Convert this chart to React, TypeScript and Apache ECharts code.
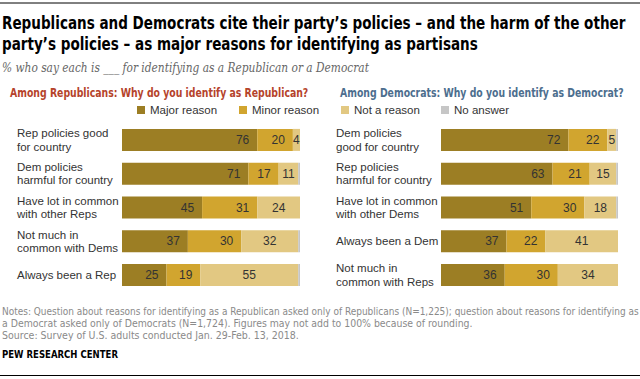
import React, { useEffect, useRef } from "react";
import * as echarts from "echarts";

const legendNames = ["Major reason", "Minor reason", "Not a reason", "No answer"];
const colors = ["#9c7e24", "#d1a52f", "#e2c882", "#c6c6c6"];

const repCategories = [
  "Rep policies good\nfor country",
  "Dem policies\nharmful for country",
  "Have lot in common\nwith other Reps",
  "Not much in\ncommon with Dems",
  "Always been a Rep",
];
const repMajor = [76, 71, 45, 37, 25];
const repMinor = [20, 17, 31, 30, 19];
const repNot = [4, 11, 24, 32, 55];
const repNoAnswer = [0, 1, 0, 1, 1];

const demCategories = [
  "Dem policies\ngood for country",
  "Rep policies\nharmful for country",
  "Have lot in common\nwith other Dems",
  "Always been a Dem",
  "Not much in\ncommon with Reps",
];
const demMajor = [72, 63, 51, 37, 36];
const demMinor = [22, 21, 30, 22, 30];
const demNot = [5, 15, 18, 41, 34];
const demNoAnswer = [1, 1, 1, 0, 0];

const titleLines = [
  "Republicans and Democrats cite their party\u2019s policies \u2013 and the harm of the other",
  "party\u2019s policies \u2013 as major reasons for identifying as partisans",
];
const subtitle = "% who say each is ___ for identifying as a Republican or a Democrat";
const repHeading = "Among Republicans: Why do you identify as Republican?";
const demHeading = "Among Democrats: Why do you identify as Democrat?";
const noteLines = [
  "Notes: Question about reasons for identifying as a Republican asked only of Republicans (N=1,225); question about reasons for identifying as",
  "a Democrat asked only of Democrats (N=1,724). Figures may not add to 100% because of rounding.",
  "Source: Survey of U.S. adults conducted Jan. 29-Feb. 13, 2018.",
];
const sourceLabel = "PEW RESEARCH CENTER";

const NARROW = "'DejaVu Sans Condensed', 'Roboto', sans-serif";
const SANS = "'Liberation Sans', Arial, sans-serif";

export default function App() {
  const ref = useRef<HTMLDivElement>(null);
  useEffect(() => {
    document.body.style.margin = "0";
    const chart = echarts.init(ref.current!, undefined, { renderer: "svg" });

    const makeSeries = (grid: number, vals: number[][]) =>
      vals.map((data, i) => ({
        type: "bar",
        name: legendNames[i],
        xAxisIndex: grid,
        yAxisIndex: grid,
        stack: "s" + grid,
        barWidth: 22,
        data,
        itemStyle: { color: colors[i] },
        label: {
          show: i < 3,
          position: i === 2 ? "inside" : "insideRight",
          distance: 8,
          color: "#333",
          fontFamily: SANS,
          fontSize: 12,
          formatter: (p: any) => (p.value > 0 ? String(p.value) : ""),
        },
        emphasis: { disabled: true },
      }));

    const legendLefts = [137, 239, 341, 441];

    const catAxis = (grid: number, data: string[]) => ({
      type: "category",
      gridIndex: grid,
      data,
      inverse: true,
      axisLine: { show: false },
      axisTick: { show: false },
      axisLabel: {
        align: "left",
        margin: 105,
        color: "#333",
        fontFamily: SANS,
        fontSize: 11.5,
        lineHeight: 13.5,
      },
    });
    const valAxis = (grid: number) => ({
      type: "value",
      gridIndex: grid,
      min: 0,
      max: 100,
      show: false,
    });

    const text = (x: number, y: number, t: string, style: any, sx = 1) => ({
      type: "text",
      x,
      y,
      scaleX: sx,
      style: { text: t, textVerticalAlign: "middle", ...style },
    });

    chart.setOption({
      animation: false,
      grid: [
        { left: 122, width: 178, top: 123, height: 169 },
        { left: 441, width: 177, top: 123, height: 169 },
      ],
      xAxis: [valAxis(0), valAxis(1)],
      yAxis: [catAxis(0, repCategories), catAxis(1, demCategories)],
      legend: legendNames.map((n, i) => ({
        data: [n],
        left: legendLefts[i],
        top: 104,
        itemWidth: 8,
        itemHeight: 8,
        icon: "rect",
        selectedMode: false,
        padding: 0,
        textStyle: { color: "#333", fontFamily: SANS, fontSize: 11.5 },
      })),
      series: [
        ...makeSeries(0, [repMajor, repMinor, repNot, repNoAnswer]),
        ...makeSeries(1, [demMajor, demMinor, demNot, demNoAnswer]),
      ],
      graphic: [
        { type: "line", shape: { x1: 0, y1: 3, x2: 640, y2: 3 }, style: { stroke: "#000", lineWidth: 1 } },
        { type: "line", shape: { x1: 0, y1: 375.5, x2: 640, y2: 375.5 }, style: { stroke: "#000", lineWidth: 1 } },
        text(2, 23.5, titleLines[0], { fill: "#000", font: `bold 17.5px ${NARROW}` }, 0.86),
        text(2, 44, titleLines[1], { fill: "#000", font: `bold 17.5px ${NARROW}` }, 0.86),
        text(2, 68, subtitle, { fill: "#666", font: `italic 12px 'DejaVu Serif', 'Liberation Serif', serif` }, 0.885),
        text(10, 92.5, repHeading, { fill: "#b5432b", font: `bold 12.5px ${NARROW}` }, 0.83),
        text(340, 92.5, demHeading, { fill: "#4d6e8e", font: `bold 12.5px ${NARROW}` }, 0.83),
        text(2, 310.5, noteLines[0], { fill: "#8a8a8a", font: `10.5px ${NARROW}` }, 0.95),
        text(2, 322.5, noteLines[1], { fill: "#8a8a8a", font: `10.5px ${NARROW}` }, 0.99),
        text(2, 334.5, noteLines[2], { fill: "#8a8a8a", font: `10.5px ${NARROW}` }),
        text(2, 354, sourceLabel, { fill: "#000", font: `bold 10px ${NARROW}` }, 0.95),
      ],
    });
    return () => chart.dispose();
  }, []);
  return <div ref={ref} style={{ width: 640, height: 379 }} />;
}
